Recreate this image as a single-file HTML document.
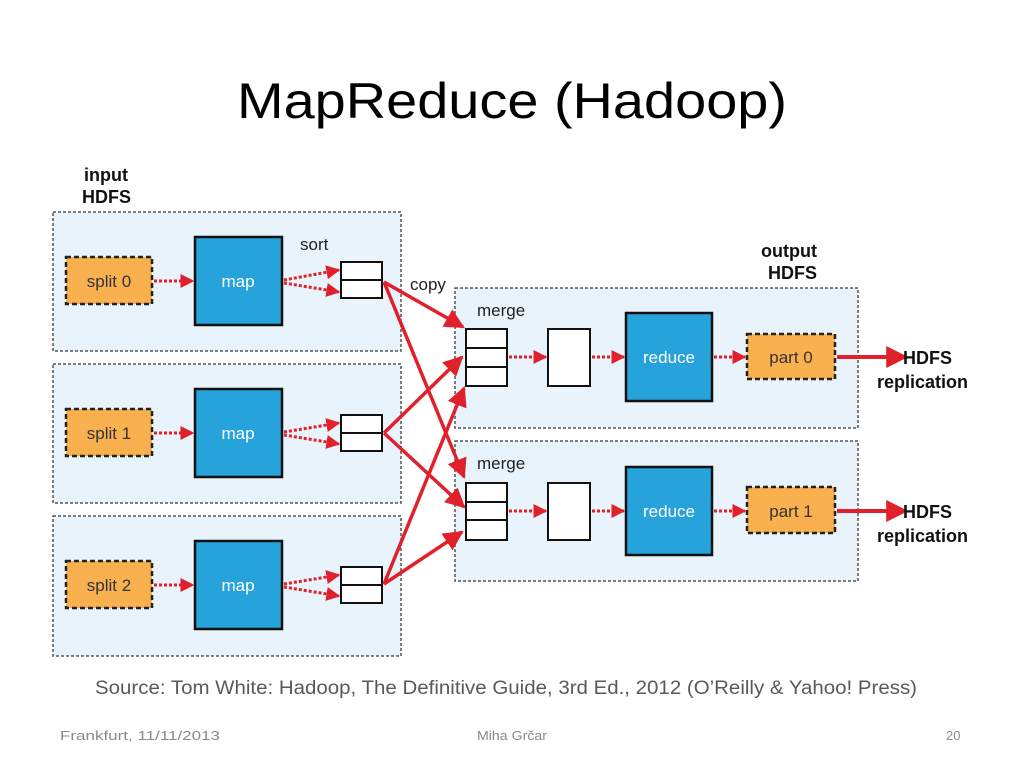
<!DOCTYPE html>
<html><head><meta charset="utf-8"><style>
html,body{margin:0;padding:0;background:#fff;}
svg{display:block;}
</style></head><body>
<svg width="1024" height="768" viewBox="0 0 1024 768" xmlns="http://www.w3.org/2000/svg" font-family="'Liberation Sans Narrow','Liberation Sans',sans-serif">
<defs>
<marker id="ah" markerWidth="8" markerHeight="8" refX="7" refY="4" orient="auto" markerUnits="userSpaceOnUse" viewBox="0 0 8 8">
</marker>
<marker id="a" viewBox="0 0 10 10" refX="9" refY="5" markerWidth="14" markerHeight="14" markerUnits="userSpaceOnUse" orient="auto"><path d="M0,0 L10,5 L0,10 z" fill="#e0202a"/></marker>
<marker id="b" viewBox="0 0 10 10" refX="9" refY="5" markerWidth="20" markerHeight="20" markerUnits="userSpaceOnUse" orient="auto"><path d="M0,0 L10,5 L0,10 z" fill="#e0202a"/></marker>
<marker id="c" viewBox="0 0 10 10" refX="9" refY="5" markerWidth="24" markerHeight="22" markerUnits="userSpaceOnUse" orient="auto"><path d="M0,0 L10,5 L0,10 z" fill="#e0202a"/></marker>
</defs>
<text x="512" y="118" font-family="'Liberation Sans',sans-serif" font-size="50" text-anchor="middle" fill="#000" textLength="550" lengthAdjust="spacingAndGlyphs">MapReduce (Hadoop)</text>

<g fill="#e8f3fb" stroke="#555" stroke-width="1.5" stroke-dasharray="3,2">
<rect x="53" y="212" width="348" height="139"/>
<rect x="53" y="364" width="348" height="139"/>
<rect x="53" y="516" width="348" height="140"/>
<rect x="455" y="288" width="403" height="140"/>
<rect x="455" y="441" width="403" height="140"/>
</g>
<text x="84" y="181" font-size="18" font-weight="bold" fill="#111">input</text>
<text x="82" y="203" font-size="18" font-weight="bold" fill="#111">HDFS</text>
<text x="761" y="257" font-size="18" font-weight="bold" fill="#111">output</text>
<text x="768" y="279" font-size="18" font-weight="bold" fill="#111">HDFS</text>

<g id="rows">
</g>
<!-- map rows -->
<g font-size="17">
<g>
<rect x="66" y="257" width="86" height="47" fill="#f9b150" stroke="#222" stroke-width="2.5" stroke-dasharray="5,3"/>
<text x="109" y="287" text-anchor="middle" fill="#333">split 0</text>
<rect x="195" y="237" width="87" height="88" fill="#27a3dc" stroke="#111" stroke-width="2.5"/>
<text x="238" y="287" text-anchor="middle" fill="#fff">map</text>
<rect x="341" y="262" width="41" height="36" fill="#fff" stroke="#111" stroke-width="2"/><line x1="341" y1="280" x2="382" y2="280" stroke="#111" stroke-width="2"/>
<text x="300" y="250" fill="#222">sort</text>
</g>
<g>
<rect x="66" y="409" width="86" height="47" fill="#f9b150" stroke="#222" stroke-width="2.5" stroke-dasharray="5,3"/>
<text x="109" y="439" text-anchor="middle" fill="#333">split 1</text>
<rect x="195" y="389" width="87" height="88" fill="#27a3dc" stroke="#111" stroke-width="2.5"/>
<text x="238" y="439" text-anchor="middle" fill="#fff">map</text>
<rect x="341" y="415" width="41" height="36" fill="#fff" stroke="#111" stroke-width="2"/><line x1="341" y1="433" x2="382" y2="433" stroke="#111" stroke-width="2"/>
</g>
<g>
<rect x="66" y="561" width="86" height="47" fill="#f9b150" stroke="#222" stroke-width="2.5" stroke-dasharray="5,3"/>
<text x="109" y="591" text-anchor="middle" fill="#333">split 2</text>
<rect x="195" y="541" width="87" height="88" fill="#27a3dc" stroke="#111" stroke-width="2.5"/>
<text x="238" y="591" text-anchor="middle" fill="#fff">map</text>
<rect x="341" y="567" width="41" height="36" fill="#fff" stroke="#111" stroke-width="2"/><line x1="341" y1="585" x2="382" y2="585" stroke="#111" stroke-width="2"/>
</g>
<text x="410" y="290" fill="#222">copy</text>
<text x="477" y="316" fill="#222">merge</text>
<text x="477" y="469" fill="#222">merge</text>
<!-- reduce rows -->
<g>
<rect x="466" y="329" width="41" height="57" fill="#fff" stroke="#111" stroke-width="2"/>
<line x1="466" y1="348" x2="507" y2="348" stroke="#111" stroke-width="2"/><line x1="466" y1="367" x2="507" y2="367" stroke="#111" stroke-width="2"/>
<rect x="548" y="329" width="42" height="57" fill="#fff" stroke="#111" stroke-width="2"/>
<rect x="626" y="313" width="86" height="88" fill="#27a3dc" stroke="#111" stroke-width="2.5"/>
<text x="669" y="363" text-anchor="middle" fill="#fff">reduce</text>
<rect x="747" y="334" width="88" height="45" fill="#f9b150" stroke="#222" stroke-width="2.5" stroke-dasharray="5,3"/>
<text x="791" y="363" text-anchor="middle" fill="#333">part 0</text>
</g>
<g>
<rect x="466" y="483" width="41" height="57" fill="#fff" stroke="#111" stroke-width="2"/>
<line x1="466" y1="502" x2="507" y2="502" stroke="#111" stroke-width="2"/><line x1="466" y1="520" x2="507" y2="520" stroke="#111" stroke-width="2"/>
<rect x="548" y="483" width="42" height="57" fill="#fff" stroke="#111" stroke-width="2"/>
<rect x="626" y="467" width="86" height="88" fill="#27a3dc" stroke="#111" stroke-width="2.5"/>
<text x="669" y="517" text-anchor="middle" fill="#fff">reduce</text>
<rect x="747" y="487" width="88" height="46" fill="#f9b150" stroke="#222" stroke-width="2.5" stroke-dasharray="5,3"/>
<text x="791" y="517" text-anchor="middle" fill="#333">part 1</text>
</g>
</g>

<!-- dotted arrows -->
<g stroke="#e0202a" stroke-width="3" stroke-dasharray="3,2" fill="none" marker-end="url(#a)">
<line x1="154" y1="281" x2="193" y2="281"/>
<line x1="154" y1="433" x2="193" y2="433"/>
<line x1="154" y1="585" x2="193" y2="585"/>
<line x1="284" y1="280" x2="339" y2="270"/><line x1="284" y1="283" x2="339" y2="292"/>
<line x1="284" y1="432" x2="339" y2="423"/><line x1="284" y1="435" x2="339" y2="444"/>
<line x1="284" y1="584" x2="339" y2="575"/><line x1="284" y1="587" x2="339" y2="596"/>
<line x1="509" y1="357" x2="546" y2="357"/><line x1="592" y1="357" x2="624" y2="357"/><line x1="714" y1="357" x2="745" y2="357"/>
<line x1="509" y1="511" x2="546" y2="511"/><line x1="592" y1="511" x2="624" y2="511"/><line x1="714" y1="511" x2="745" y2="511"/>
</g>
<!-- copy arrows -->
<g stroke="#e0202a" stroke-width="3.5" fill="none" marker-end="url(#b)">
<line x1="384" y1="282" x2="463" y2="327"/>
<line x1="384" y1="282" x2="464" y2="477"/>
<line x1="384" y1="433" x2="462" y2="357"/>
<line x1="384" y1="433" x2="464" y2="507"/>
<line x1="384" y1="584" x2="464" y2="388"/>
<line x1="384" y1="584" x2="462" y2="532"/>
</g>
<g stroke="#e0202a" stroke-width="4" fill="none" marker-end="url(#c)">
<line x1="837" y1="357" x2="906" y2="357"/>
<line x1="837" y1="511" x2="906" y2="511"/>
</g>
<g font-size="18" font-weight="bold" fill="#111">
<text x="903" y="364">HDFS</text><text x="877" y="388">replication</text>
<text x="903" y="518">HDFS</text><text x="877" y="542">replication</text>
</g>

<g font-family="'Liberation Sans',sans-serif" fill="#595959">
<text x="95" y="694" font-size="19" textLength="822" lengthAdjust="spacingAndGlyphs">Source: Tom White: Hadoop, The Definitive Guide, 3rd Ed., 2012 (O’Reilly &amp; Yahoo! Press)</text>
<text x="60" y="740" font-size="13" fill="#8a8a8a" textLength="160" lengthAdjust="spacingAndGlyphs">Frankfurt, 11/11/2013</text>
<text x="477" y="740" font-size="13" fill="#8a8a8a" textLength="70" lengthAdjust="spacingAndGlyphs">Miha Grčar</text>
<text x="946" y="740" font-size="13" fill="#8a8a8a">20</text>
</g>
</svg>
</body></html>
